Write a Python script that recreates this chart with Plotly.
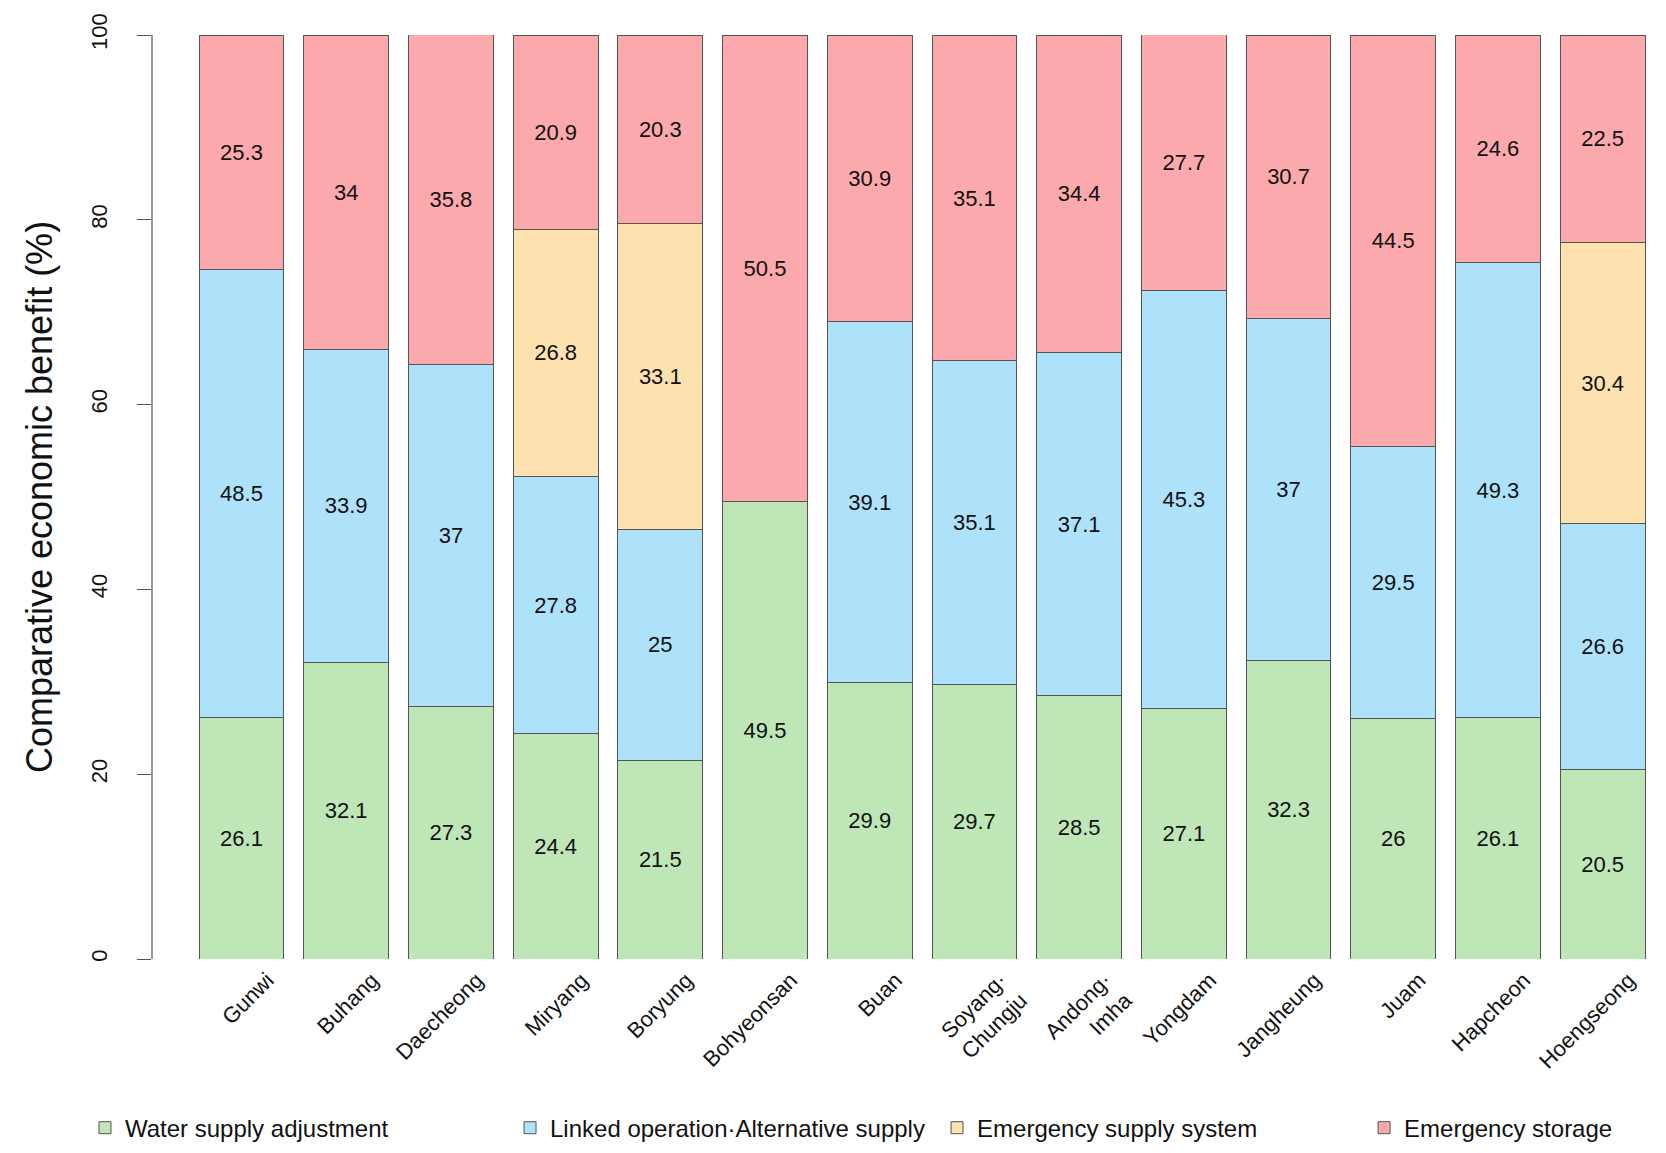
import plotly.graph_objects as go

categories = ["Gunwi", "Buhang", "Daecheong", "Miryang", "Boryung", "Bohyeonsan", "Buan",
              "Soyang·<br>Chungju", "Andong·<br>Imha", "Yongdam", "Jangheung", "Juam",
              "Hapcheon", "Hoengseong"]

water_supply_adjustment = [26.1, 32.1, 27.3, 24.4, 21.5, 49.5, 29.9, 29.7, 28.5, 27.1, 32.3, 26.0, 26.1, 20.5]
linked_operation = [48.5, 33.9, 37.0, 27.8, 25.0, 0, 39.1, 35.1, 37.1, 45.3, 37.0, 29.5, 49.3, 26.6]
emergency_supply = [0, 0, 0, 26.8, 33.1, 0, 0, 0, 0, 0, 0, 0, 0, 30.4]
emergency_storage = [25.3, 34.0, 35.8, 20.9, 20.3, 50.5, 30.9, 35.1, 34.4, 27.7, 30.7, 44.5, 24.6, 22.5]

series_names = ["Water supply adjustment", "Linked operation·Alternative supply",
                "Emergency supply system", "Emergency storage"]
series_values = [water_supply_adjustment, linked_operation, emergency_supply, emergency_storage]
colors = ["#BFE6B6", "#AEE2FA", "#FDE1AE", "#FBA9AC"]

y_ticks = [0, 20, 40, 60, 80, 100]

FONT = "Arial, Liberation Sans, sans-serif"
legend_ids = ["legend", "legend2", "legend3", "legend4"]
legend_x = [-0.0453, 0.2377, 0.5220, 0.8063]

fig = go.Figure()
xs = list(range(len(categories)))
for name, vals, col, lid in zip(series_names, series_values, colors, legend_ids):
    txt = [("%g" % v) if v else "" for v in vals]
    fig.add_trace(go.Bar(
        x=xs, y=vals, name=name, legend=lid,
        marker=dict(color=col, line=dict(color="#555555", width=1)),
        text=txt, textposition="inside", insidetextanchor="middle",
        textangle=0, constraintext="none",
        textfont=dict(family=FONT, size=22, color="#111111"),
        hoverinfo="skip",
    ))

legend_layout = {}
for lid, lx in zip(legend_ids, legend_x):
    legend_layout[lid] = dict(
        orientation="h", x=lx, xanchor="left", y=-0.183, yanchor="middle",
        font=dict(family=FONT, size=24, color="#111111"),
        bgcolor="rgba(0,0,0,0)",
    )

fig.update_layout(
    barmode="stack",
    bargap=0.19,
    width=1650, height=1137,
    margin=dict(l=145, r=3, t=27, b=186, autoexpand=False),
    plot_bgcolor="white", paper_bgcolor="white",
    font=dict(family=FONT, color="#111111"),
    showlegend=True,
    xaxis=dict(
        tickmode="array", tickvals=xs, ticktext=categories,
        tickangle=-45, range=[-0.845, 13.5],
        ticklabelshift=26, ticklabelstandoff=3, automargin=False,
        showline=False, showgrid=False, zeroline=False, ticks="",
        tickfont=dict(family=FONT, size=22, color="#111111"),
    ),
    yaxis=dict(
        range=[0, 100], tickvals=y_ticks, ticktext=[str(t) for t in y_ticks],
        tickangle=-90, ticks="outside", ticklen=14, tickcolor="#555555",
        ticklabelstandoff=21, automargin=False,
        showline=True, linecolor="#999999", linewidth=1.5,
        showgrid=False, zeroline=False,
        tickfont=dict(family=FONT, size=22, color="#111111"),
        title=dict(text="Comparative economic benefit (%)", standoff=24,
                   font=dict(family=FONT, size=36, color="#111111")),
    ),
    **legend_layout,
)

fig.write_html("out.html")
